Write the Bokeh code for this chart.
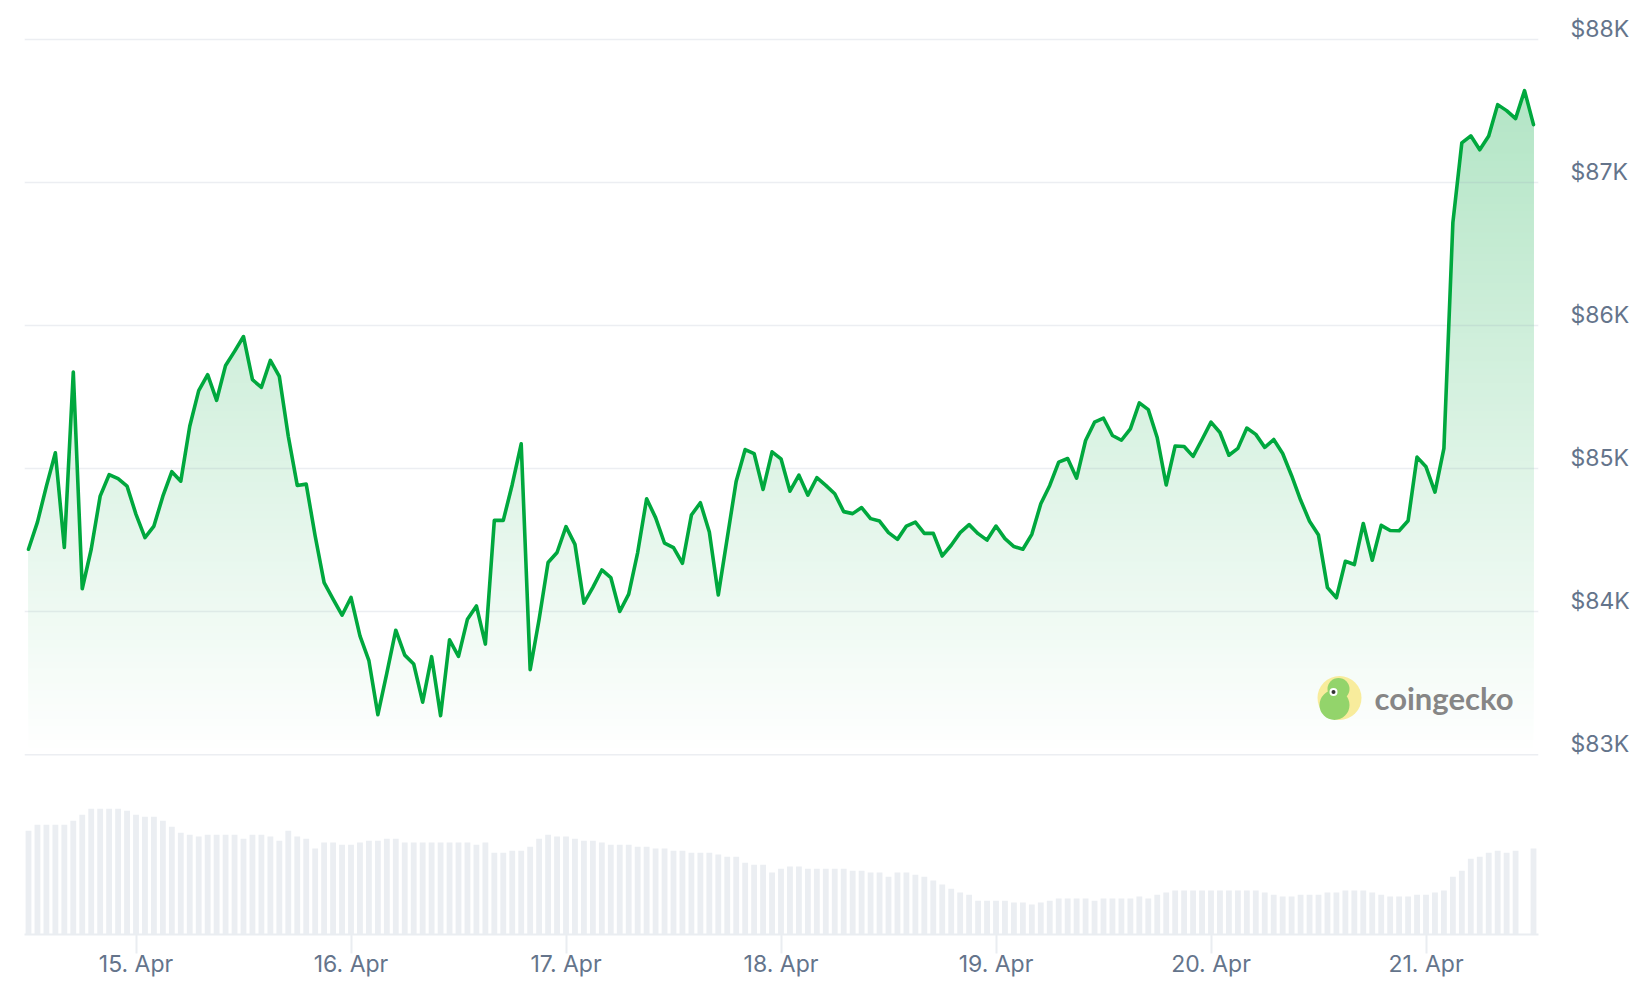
import numpy as np
import pandas as pd
from bokeh.plotting import figure
from bokeh.models import Range1d, FixedTicker, DatetimeTickFormatter, CustomJSTickFormatter
from bokeh.embed import file_html
from bokeh.resources import INLINE
from bokeh.core.properties import value

# ---------------- data ----------------
START = "2025-04-14 12:00"   # hourly samples, 14 Apr 12:00 -> 21 Apr 12:00 (UTC)

price_usd = [
    84436, 84626, 84877, 85110, 84448, 85675, 84160, 84436, 84807, 84957,
    84929, 84877, 84680, 84517, 84598, 84807, 84978, 84912, 85296, 85545,
    85656, 85477, 85721, 85819, 85923, 85621, 85568, 85756, 85644, 85226,
    84882, 84891, 84529, 84203, 84087, 83975, 84099, 83831, 83657, 83280,
    83570, 83870, 83696, 83634, 83367, 83685, 83273, 83803, 83687, 83947,
    84040, 83773, 84638, 84638, 84889, 85173, 83594, 83947, 84343, 84413,
    84594, 84470, 84059, 84169, 84291, 84238, 84001, 84122, 84413, 84789,
    84657, 84478, 84447, 84338, 84675, 84761, 84556, 84117, 84515, 84912,
    85133, 85105, 84854, 85117, 85068, 84842, 84954, 84814, 84936, 84882,
    84824, 84699, 84685, 84727, 84650, 84633, 84552, 84505, 84598, 84626,
    84547, 84547, 84389, 84464, 84552, 84608, 84545, 84500, 84598, 84510,
    84455, 84436, 84540, 84754, 84882, 85045, 85070, 84933, 85196, 85324,
    85352, 85231, 85198, 85278, 85459, 85412, 85215, 84885, 85158, 85154,
    85085, 85203, 85325, 85252, 85093, 85141, 85283, 85239, 85148, 85203,
    85105, 84950, 84780, 84632, 84535, 84168, 84097, 84352, 84329, 84616,
    84359, 84603, 84567, 84565, 84635, 85080, 85012, 84835, 85141, 86719,
    87277, 87326, 87228, 87324, 87544, 87502, 87446, 87642, 87404,
]

volume_usd_b = [
    34.7, 36.7, 36.7, 36.7, 36.7, 38.0, 40.0, 42.0, 42.0, 42.0,
    42.0, 41.3, 40.0, 39.3, 39.3, 38.0, 36.0, 34.0, 33.3, 32.7,
    33.3, 33.3, 33.3, 33.3, 32.0, 33.3, 33.3, 32.7, 31.3, 34.7,
    32.7, 32.0, 28.7, 30.7, 30.7, 30.0, 30.0, 30.7, 31.3, 31.3,
    32.0, 32.0, 30.7, 30.7, 30.7, 30.7, 30.7, 30.7, 30.7, 30.7,
    30.0, 30.7, 27.3, 27.3, 28.0, 28.0, 29.3, 32.0, 33.3, 32.7,
    32.7, 32.0, 31.3, 31.3, 30.7, 30.0, 30.0, 30.0, 29.3, 29.3,
    28.7, 28.7, 28.0, 28.0, 27.3, 27.3, 27.3, 26.7, 26.0, 26.0,
    24.0, 23.3, 23.3, 20.7, 22.0, 22.7, 22.7, 22.0, 22.0, 22.0,
    22.0, 22.0, 21.3, 21.3, 20.7, 20.7, 19.3, 20.7, 20.7, 20.0,
    19.3, 18.0, 16.7, 15.3, 14.0, 13.3, 11.3, 11.3, 11.3, 11.3,
    10.7, 10.7, 10.0, 10.7, 11.3, 12.0, 12.0, 12.0, 12.0, 11.3,
    12.0, 12.0, 12.0, 12.0, 12.7, 12.0, 13.3, 14.0, 14.7, 14.7,
    14.7, 14.7, 14.7, 14.7, 14.7, 14.7, 14.7, 14.7, 14.0, 13.3,
    12.7, 12.7, 13.3, 13.3, 13.3, 14.0, 14.0, 14.7, 14.7, 14.7,
    14.0, 13.3, 12.7, 12.7, 12.7, 13.3, 13.3, 14.0, 14.7, 19.3,
    21.3, 25.3, 26.0, 27.3, 28.0, 27.3, 28.0, float("nan"), 28.7,
]

price_levels_k = [83, 84, 85, 86, 87, 88]
day_ticks = ["2025-04-15", "2025-04-16", "2025-04-17", "2025-04-18",
             "2025-04-19", "2025-04-20", "2025-04-21"]

# ---------------- styling ----------------
GREEN = "#00a83e"
GREEN_RGB = (0, 168, 62)
LABEL_COLOR = "#64748b"
AXIS_COLOR = "#eaedf1"
VOL_COLOR = "#ebeef2"
FONT = "Inter"
HOUR = 3600 * 1000.0

times = pd.date_range(START, periods=len(price_usd), freq="h")
t_ms = (times.astype("int64") // 10**6).to_numpy().astype(float)
price = np.array(price_usd, dtype=float)
vol = np.array(volume_usd_b, dtype=float)

x_range = Range1d(t_ms[0] - 0.4465 * HOUR, t_ms[-1] + 0.558 * HOUR)
y_range = Range1d(81743, 88146)

p = figure(width=1632, height=980, x_range=x_range, y_range=y_range,
           x_axis_type="datetime", y_axis_location="right",
           output_backend="svg", toolbar_location=None,
           min_border_left=24, min_border_right=94,
           min_border_top=18, min_border_bottom=44,
           background_fill_color="white", border_fill_color="white",
           outline_line_color=None)

p.extra_y_ranges = {"vol": Range1d(0, 306)}

# volume bars
p.vbar(x=t_ms, top=vol, bottom=0, width=0.65 * HOUR, y_range_name="vol",
       fill_color=VOL_COLOR, line_color=None)

# gradient area fill: opaque stacked bands (each band covers level..price)
def blend(t):
    r, g, b = (int(round(255 - t * (255 - c))) for c in GREEN_RGB)
    return "#%02x%02x%02x" % (r, g, b)

def band_outline(level):
    """Upper outline of the area above `level`, with exact crossing points."""
    xs, ys = [t_ms[0]], [max(price[0], level)]
    for i in range(len(price) - 1):
        a, b = price[i] - level, price[i + 1] - level
        if a * b < 0:
            f = a / (a - b)
            xs.append(t_ms[i] + f * (t_ms[i + 1] - t_ms[i]))
            ys.append(level)
        xs.append(t_ms[i + 1])
        ys.append(max(price[i + 1], level))
    return np.array(xs), np.array(ys)

for L in np.arange(83000, 87700, 50):
    T = 0.3 * min(1.0, (L + 25 - 83000) / 4650.0)
    bx, by = band_outline(L)
    p.varea(x=bx, y1=np.full_like(by, L), y2=by, fill_color=blend(T))

# horizontal grid lines (drawn over the fill, under the line)
p.xgrid.grid_line_color = None
p.ygrid.grid_line_color = None
levels = [v * 1000 for v in price_levels_k]
p.segment(x0=[x_range.start] * len(levels), x1=[x_range.end] * len(levels),
          y0=levels, y1=levels, line_color="#94a3b8", line_alpha=0.18,
          line_width=1.5)

# price line
p.line(t_ms, price, line_color=GREEN, line_width=3.6,
       line_join="round", line_cap="round")

# x axis
xa = p.xaxis[0]
xa.ticker = FixedTicker(ticks=[pd.Timestamp(d).value / 10**6 for d in day_ticks])
fmt = "%d. %b"
xa.formatter = DatetimeTickFormatter(microseconds=fmt, milliseconds=fmt, seconds=fmt,
                                     minsec=fmt, minutes=fmt, hourmin=fmt, hours=fmt,
                                     days=fmt, months=fmt, years=fmt)
xa.axis_line_color = AXIS_COLOR
xa.axis_line_width = 2
xa.major_tick_line_color = AXIS_COLOR
xa.major_tick_line_width = 2
xa.major_tick_out = 19
xa.major_tick_in = 0
xa.minor_tick_line_color = None
xa.major_label_standoff = -4
xa.major_label_text_font = FONT
xa.major_label_text_font_size = "23px"
xa.major_label_text_color = LABEL_COLOR

# y axis (labels sit slightly above their grid line)
ya = p.yaxis[0]
ya.ticker = FixedTicker(ticks=[v * 1000 + 73 for v in price_levels_k])
ya.formatter = CustomJSTickFormatter(code="return '$' + Math.round(tick / 1000) + 'K'")
ya.axis_line_color = None
ya.major_tick_line_color = None
ya.minor_tick_line_color = None
ya.major_label_standoff = 26
ya.major_label_text_font = FONT
ya.major_label_text_font_size = "23px"
ya.major_label_text_color = LABEL_COLOR

# coingecko watermark (positioned in frame pixels)
def fx(px):
    return x_range.start + (px - 24) / (1538 - 24) * (x_range.end - x_range.start)

def fy(py):
    return y_range.end - (py - 18) / (936 - 18) * (y_range.end - y_range.start)

p.scatter([fx(1339)], [fy(699)], size=44, marker="circle",
          fill_color="#f8ec9c", line_color=None)
p.scatter([fx(1334)], [fy(706)], size=30, marker="circle",
          fill_color="#93d46b", line_color=None)
p.scatter([fx(1338)], [fy(690)], size=22, marker="circle",
          fill_color="#93d46b", line_color=None)
p.scatter([fx(1333)], [fy(693)], size=8, marker="circle",
          fill_color="white", line_color=None)
p.scatter([fx(1333)], [fy(693)], size=4, marker="circle",
          fill_color="#333333", line_color=None)
p.text([fx(1374)], [fy(699)], text=["coingecko"], text_font=value("Lato"),
       text_font_style="bold", text_font_size="31px", text_color="#868686",
       text_align="left", text_baseline="middle")

open("out.html", "w").write(file_html(p, INLINE))
